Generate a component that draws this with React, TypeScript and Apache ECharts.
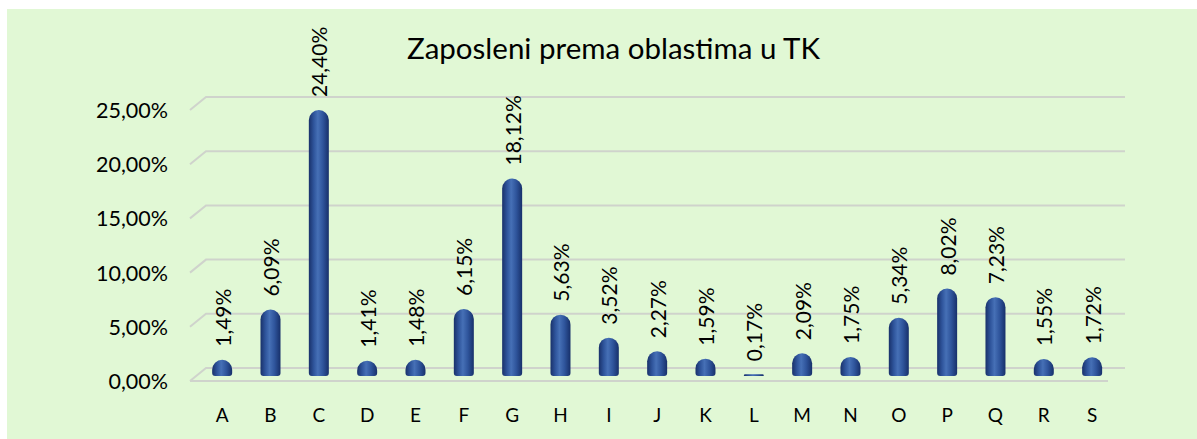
import React, { useEffect, useRef } from "react";
import * as echarts from "echarts";

const categories = ["A", "B", "C", "D", "E", "F", "G", "H", "I", "J", "K", "L", "M", "N", "O", "P", "Q", "R", "S"];
const shares = [1.49, 6.09, 24.4, 1.41, 1.48, 6.15, 18.12, 5.63, 3.52, 2.27, 1.59, 0.17, 2.09, 1.75, 5.34, 8.02, 7.23, 1.55, 1.72];
const gridTicks = [0, 5, 10, 15, 20, 25];
const titleText = "Zaposleni prema oblastima u TK";

const fmt = (v: number) => v.toFixed(2).replace(".", ",") + "%";
const FONT = "Lato, 'Open Sans', sans-serif";

export default function App() {
  const ref = useRef<HTMLDivElement>(null);
  useEffect(() => {
    if (!ref.current) return;
    const chart = echarts.init(ref.current, null, { renderer: "svg" });
    const DX = 16;
    const DY = 13;
    const BACK_EXTRA = 17;
    chart.setOption({
      animation: false,
      backgroundColor: "#ffffff",
      textStyle: { fontFamily: FONT },
      graphic: {
        elements: [
          {
            type: "rect",
            z: -100,
            silent: true,
            shape: { x: 7, y: 9, width: 1190, height: 430 },
            style: { fill: "#e1f8d5" },
          },
        ],
      },
      title: {
        text: titleText,
        left: 402,
        top: 27,
        textStyle: { fontFamily: FONT, fontSize: 29.5, fontWeight: "normal", color: "#000" },
      },
      grid: [
        { left: 198, right: 80.7, top: 103.5, bottom: 63 },
        { left: 190, right: 89, top: 110, bottom: 58 },
      ],
      xAxis: [
        {
          type: "category",
          gridIndex: 0,
          data: categories,
          axisLine: { show: false },
          axisTick: { show: false },
          axisLabel: { color: "#000", fontSize: 19, margin: 29, fontFamily: FONT },
        },
        { type: "value", gridIndex: 1, min: 0, max: 1, show: false },
      ],
      yAxis: [
        { type: "value", gridIndex: 0, min: 0, max: 25, interval: 5, show: false },
        {
          type: "value",
          gridIndex: 1,
          min: 0,
          max: 25,
          interval: 5,
          axisLine: { show: false },
          axisTick: { show: false },
          splitLine: { show: false },
          axisLabel: {
            color: "#000",
            fontSize: 21.5,
            margin: 22,
            fontFamily: FONT,
            formatter: (v: number) => fmt(v),
          },
        },
      ],
      series: [
        {
          type: "custom",
          xAxisIndex: 1,
          yAxisIndex: 1,
          z: 1,
          silent: true,
          data: gridTicks.map((v) => [v]),
          renderItem: (params: any, api: any) => {
            const v = api.value(0);
            const l = api.coord([0, v]);
            const r = api.coord([1, v]);
            const stroke = { stroke: "#cfd3cc", lineWidth: 2, fill: "none" };
            const children: any[] = [
              {
                type: "polyline",
                shape: {
                  points: [
                    [l[0], l[1]],
                    [l[0] + DX, l[1] - DY],
                    [r[0] + BACK_EXTRA, r[1] - DY],
                  ],
                },
                style: stroke,
              },
            ];
            if (v === 0) {
              children.push({
                type: "line",
                shape: { x1: l[0], y1: l[1], x2: r[0], y2: r[1] },
                style: stroke,
              });
            }
            return { type: "group", children };
          },
        },
        {
          type: "bar",
          xAxisIndex: 0,
          yAxisIndex: 0,
          z: 5,
          data: shares,
          barWidth: 20,
          itemStyle: {
            borderRadius: [10, 10, 3, 3],
            color: new echarts.graphic.LinearGradient(0, 0, 1, 0, [
              { offset: 0, color: "#19316a" },
              { offset: 0.25, color: "#2f559c" },
              { offset: 0.45, color: "#4670b6" },
              { offset: 0.7, color: "#2f559c" },
              { offset: 1, color: "#17306a" },
            ]),
          },
          label: {
            show: true,
            position: "top",
            rotate: 90,
            align: "left",
            verticalAlign: "middle",
            distance: 13,
            color: "#000",
            fontSize: 21,
            fontFamily: FONT,
            formatter: (p: any) => fmt(p.value),
          },
        },
      ],
    });
    return () => chart.dispose();
  }, []);
  return (
    <div
      ref={ref}
      style={{ position: "fixed", left: 0, top: 0, width: 1197, height: 439 }}
    />
  );
}
